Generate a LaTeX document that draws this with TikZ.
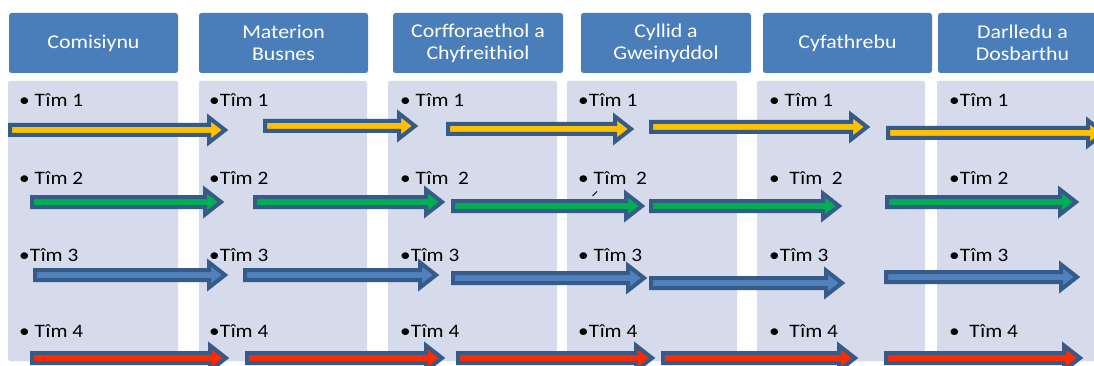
\documentclass[tikz,border=0pt]{standalone}
\usepackage{fontspec}
\setmainfont{Carlito}
\newfontfamily\diafont[FakeStretch=1.12]{Carlito}
\definecolor{hdrblue}{HTML}{4A7EBB}
\definecolor{panelfill}{HTML}{D5DBEA}
\definecolor{arrowedge}{HTML}{365B88}
\definecolor{ayellow}{HTML}{FFC000}
\definecolor{agreen}{HTML}{00B050}
\definecolor{ablue}{HTML}{4F81BD}
\definecolor{ared}{HTML}{FF2A00}
\tikzset{
  hdrbox/.style={rectangle, rounded corners=2.5pt, fill=hdrblue, text=white, align=center,
    minimum height=60, inner sep=0pt, font=\diafont\fontsize{19.5}{22}\selectfont},
  panelbox/.style={rectangle, rounded corners=2pt, fill=panelfill, minimum height=280, inner sep=0pt},
  lbl/.style={anchor=base west, inner sep=0pt, font=\diafont\fontsize{19}{22}\selectfont},
  arrowline/.style={draw=arrowedge, line width=4pt, line join=miter}
}
\newcommand\BlkArrow[4]{%
  \draw[arrowline, fill=#4] (#1,#3-5) -- (#2-16,#3-5) -- (#2-16,#3-12.5) -- (#2,#3)
    -- (#2-16,#3+12.5) -- (#2-16,#3+5) -- (#1,#3+5) -- cycle;}
\begin{document}
\begin{tikzpicture}[x=1pt,y=-1pt]
\useasboundingbox (0,0) rectangle (1094,366);
\clip (0,0) rectangle (1094,366);
\fill[white] (0,0) rectangle (1094,366);
% headers
\node[hdrbox, minimum width=169] (h1) at (93.5,43) {Comisiynu};
\node[hdrbox, minimum width=169] (h2) at (283.5,43) {Materion\\Busnes};
\node[hdrbox, minimum width=170] (h3) at (478,43) {Corfforaethol a\\Chyfreithiol};
\node[hdrbox, minimum width=170] (h4) at (666,43) {Cyllid a\\Gweinyddol};
\node[hdrbox, minimum width=169] (h5) at (847.5,43) {Cyfathrebu};
\node[hdrbox, minimum width=169] (h6) at (1022.5,43) {Darlledu a\\Dosbarthu};
% panels
\node[panelbox, minimum width=170] (p1) at (93,221) {};
\node[panelbox, minimum width=168] (p2) at (283,221) {};
\node[panelbox, minimum width=169] (p3) at (472.5,221) {};
\node[panelbox, minimum width=170] (p4) at (652,221) {};
\node[panelbox, minimum width=168] (p5) at (841,221) {};
\node[panelbox, minimum width=170] (p6) at (1022,221) {};
% labels row 1
\node[lbl] (t11) at (19,107) {• Tîm 1};
\node[lbl] (t12) at (209,107) {•Tîm 1};
\node[lbl] (t13) at (400,107) {• Tîm 1};
\node[lbl] (t14) at (578,107) {•Tîm 1};
\node[lbl] (t15) at (769,107) {• Tîm 1};
\node[lbl] (t16) at (949,107) {•Tîm 1};
% row 2
\node[lbl] (t21) at (19,185) {• Tîm 2};
\node[lbl] (t22) at (209,185) {•Tîm 2};
\node[lbl] (t23) at (400,185) {• Tîm\ \ 2};
\node[lbl] (t24) at (578,185) {• Tîm\ \ 2};
\node[lbl] (t25) at (769,185) {•\ \ Tîm\ \ 2};
\node[lbl] (t26) at (949,185) {•Tîm 2};
% row 3
\node[lbl] (t31) at (19,261) {•Tîm 3};
\node[lbl] (t32) at (209,261) {•Tîm 3};
\node[lbl] (t33) at (400,261) {•Tîm 3};
\node[lbl] (t34) at (578,261) {• Tîm 3};
\node[lbl] (t35) at (769,261) {•Tîm 3};
\node[lbl] (t36) at (949,261) {•Tîm 3};
% row 4
\node[lbl] (t41) at (19,337) {• Tîm 4};
\node[lbl] (t42) at (209,337) {•Tîm 4};
\node[lbl] (t43) at (400,337) {•Tîm 4};
\node[lbl] (t44) at (578,337) {•Tîm 4};
\node[lbl] (t45) at (769,337) {•\ \ Tîm 4};
\node[lbl] (t46) at (949,337) {•\ \ Tîm 4};
% stray tick
\draw[line width=0.8pt] (592.5,196) -- (597,191.5);
% arrows row 1
\BlkArrow{10}{225}{130}{ayellow}
\BlkArrow{265}{415}{126}{ayellow}
\BlkArrow{448}{631}{129}{ayellow}
\BlkArrow{651}{867}{127}{ayellow}
\BlkArrow{888}{1104}{133}{ayellow}
% row 2
\BlkArrow{32}{221}{202}{agreen}
\BlkArrow{255}{442}{202}{agreen}
\BlkArrow{453}{642}{206}{agreen}
\BlkArrow{651}{839}{206}{agreen}
\BlkArrow{887}{1076}{202}{agreen}
% row 3
\BlkArrow{35}{225}{275}{ablue}
\BlkArrow{245}{436}{275}{ablue}
\BlkArrow{453}{644}{278}{ablue}
\BlkArrow{651}{842}{283}{ablue}
\BlkArrow{886}{1077}{277}{ablue}
% row 4
\BlkArrow{32}{226}{358}{ared}
\BlkArrow{247}{442}{358}{ared}
\BlkArrow{458}{652}{358}{ared}
\BlkArrow{663}{855}{358}{ared}
\BlkArrow{886}{1080}{358}{ared}
\end{tikzpicture}
\end{document}
